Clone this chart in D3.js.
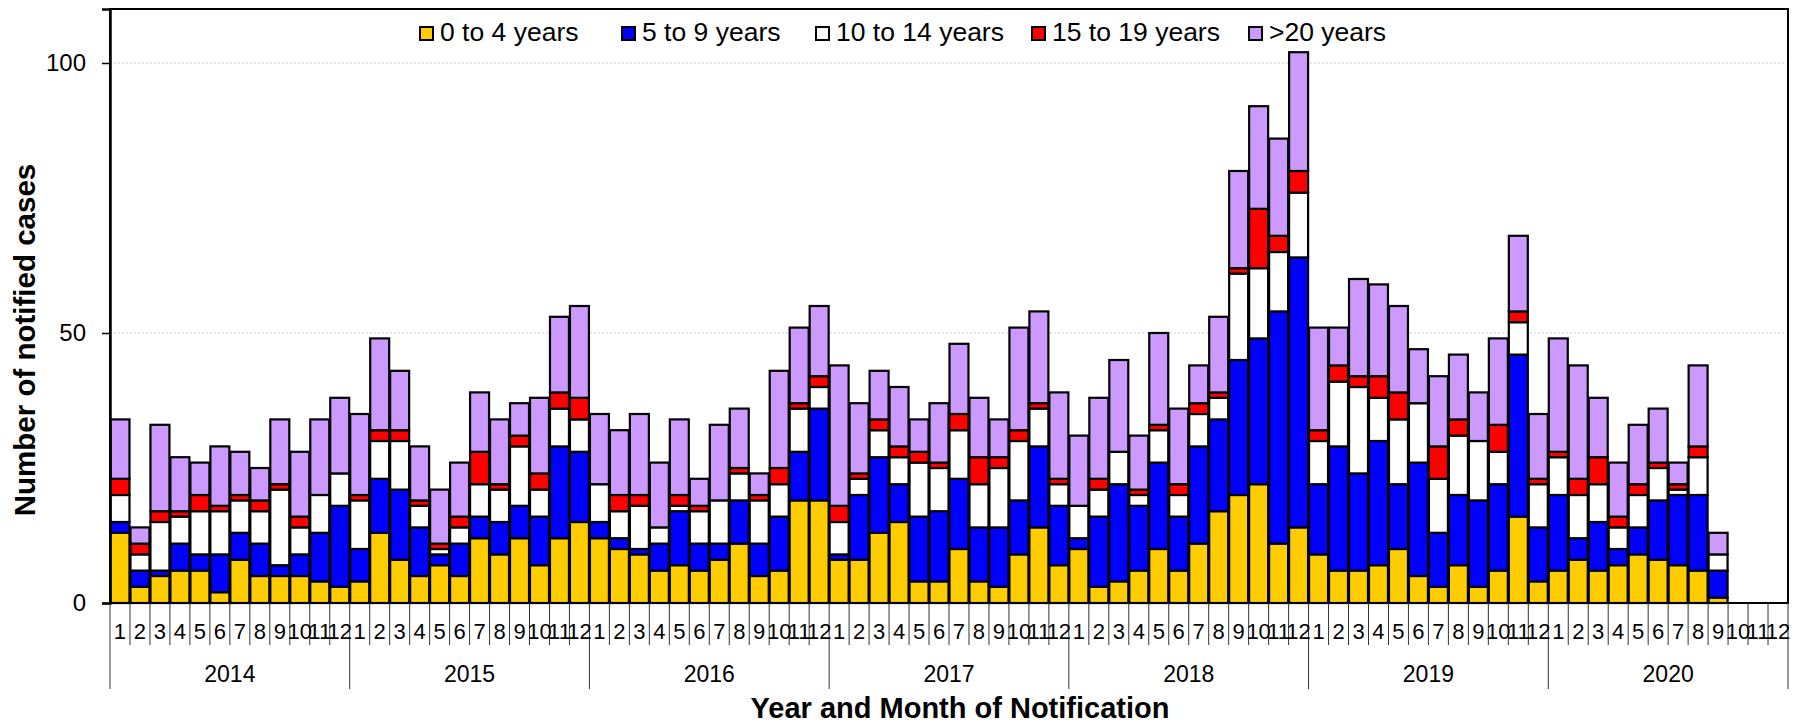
<!DOCTYPE html>
<html>
<head>
<meta charset="utf-8">
<script src="https://cdn.jsdelivr.net/npm/d3@7"></script>
<style>
  body { margin: 0; background: #fff; }
  text { font-family: "Liberation Sans", Arial, sans-serif; fill: #000; }
</style>
</head>
<body>
<div id="chart"></div>
<script>
  // Years and months on the x axis
  const years = ["2014", "2015", "2016", "2017", "2018", "2019", "2020"];
  const monthLabels = ["1", "2", "3", "4", "5", "6", "7", "8", "9", "10", "11", "12"];

  const seriesNames = ["0 to 4 years", "5 to 9 years", "10 to 14 years", "15 to 19 years", ">20 years"];
  const seriesColors = ["#FFCC00", "#0000FF", "#FFFFFF", "#FF0000", "#CC99FF"];

  // Notified cases per month, one row per year
  const age0to4 = [
    13, 3, 5, 6, 6, 2, 8, 5, 5, 5, 4, 3,
    4, 13, 8, 5, 7, 5, 12, 9, 12, 7, 12, 15,
    12, 10, 9, 6, 7, 6, 8, 11, 5, 6, 19, 19,
    8, 8, 13, 15, 4, 4, 10, 4, 3, 9, 14, 7,
    10, 3, 4, 6, 10, 6, 11, 17, 20, 22, 11, 14,
    9, 6, 6, 7, 10, 5, 3, 7, 3, 6, 16, 4,
    6, 8, 6, 7, 9, 8, 7, 6, 1, 0, 0, 0
  ];
  const age5to9 = [
    2, 3, 1, 5, 3, 7, 5, 6, 2, 4, 9, 15,
    6, 10, 13, 9, 2, 6, 4, 6, 6, 9, 17, 13,
    3, 2, 1, 5, 10, 5, 3, 8, 6, 10, 9, 17,
    1, 12, 14, 7, 12, 13, 13, 10, 11, 10, 15, 11,
    2, 13, 18, 12, 16, 10, 18, 17, 25, 27, 43, 50,
    13, 23, 18, 23, 12, 21, 10, 13, 16, 16, 30, 10,
    14, 4, 9, 3, 5, 11, 13, 14, 5, 0, 0, 0
  ];
  const age10to14 = [
    5, 3, 9, 5, 8, 8, 6, 6, 14, 5, 7, 6,
    9, 7, 9, 4, 1, 3, 6, 6, 11, 5, 7, 6,
    7, 5, 8, 3, 1, 6, 8, 5, 8, 6, 8, 4,
    6, 3, 5, 5, 10, 8, 9, 8, 11, 11, 7, 4,
    6, 5, 6, 2, 6, 4, 6, 4, 16, 13, 11, 12,
    8, 12, 16, 8, 12, 11, 10, 11, 11, 6, 6, 8,
    7, 8, 7, 4, 6, 6, 1, 7, 3, 0, 0, 0
  ];
  const age15to19 = [
    3, 2, 2, 1, 3, 1, 1, 2, 1, 2, 0, 0,
    1, 2, 2, 1, 1, 2, 6, 1, 2, 3, 3, 4,
    0, 3, 2, 0, 2, 1, 0, 1, 1, 3, 1, 2,
    3, 1, 2, 2, 2, 1, 3, 5, 2, 2, 1, 1,
    0, 2, 0, 1, 1, 2, 2, 1, 1, 11, 3, 4,
    2, 3, 2, 4, 5, 0, 6, 3, 0, 5, 2, 1,
    1, 3, 5, 2, 2, 1, 1, 2, 0, 0, 0, 0
  ];
  const age20plus = [
    11, 3, 16, 10, 6, 11, 8, 6, 12, 12, 14, 14,
    15, 17, 11, 10, 10, 10, 11, 12, 6, 14, 14, 17,
    13, 12, 15, 12, 14, 5, 14, 11, 4, 18, 14, 13,
    26, 13, 9, 11, 6, 11, 13, 11, 7, 19, 17, 16,
    13, 15, 17, 10, 17, 14, 7, 14, 18, 19, 18, 22,
    19, 7, 18, 17, 16, 10, 13, 12, 9, 16, 14, 12,
    21, 21, 11, 10, 11, 10, 4, 15, 4, 0, 0, 0
  ];
  const yTicks = [0, 50, 100];

  const seriesValues = [age0to4, age5to9, age10to14, age15to19, age20plus];

  // one row per month for d3.stack
  const rows = [];
  years.forEach((yr, yi) => {
    monthLabels.forEach((m, mi) => {
      const i = yi * 12 + mi;
      const row = { key: yr + "-" + m, year: yr, month: m };
      seriesNames.forEach((s, si) => { row[s] = seriesValues[si][i]; });
      rows.push(row);
    });
  });

  const svg = d3.select("#chart")
    .append("svg")
    .attr("width", 1800)
    .attr("height", 725);

  const margin = { top: 9, right: 12, bottom: 122, left: 110 };
  const width = 1800 - margin.left - margin.right;
  const height = 725 - margin.top - margin.bottom;

  const x = d3.scaleBand()
    .domain(rows.map(d => d.key))
    .range([0, width])
    .paddingInner(0.05)
    .paddingOuter(0.025);

  const y = d3.scaleLinear()
    .domain([0, 110])
    .range([height, 0]);

  const g = svg.append("g")
    .attr("transform", `translate(${margin.left}, ${margin.top})`);

  // gridlines
  g.append("g")
    .selectAll("line")
    .data(yTicks.filter(t => t > 0))
    .enter()
    .append("line")
    .attr("x1", 0).attr("x2", width)
    .attr("y1", d => y(d)).attr("y2", d => y(d))
    .attr("stroke", "#d0d0d0")
    .attr("stroke-width", 1)
    .attr("stroke-dasharray", "2,2");

  // stacked bars
  const stacked = d3.stack().keys(seriesNames)(rows);

  g.append("g")
    .selectAll("g")
    .data(stacked)
    .enter()
    .append("g")
    .attr("fill", (d, i) => seriesColors[i])
    .selectAll("rect")
    .data(d => d.filter(p => p[1] - p[0] > 0))
    .enter()
    .append("rect")
    .attr("x", d => x(d.data.key))
    .attr("y", d => y(d[1]))
    .attr("width", x.bandwidth())
    .attr("height", d => y(d[0]) - y(d[1]))
    .attr("stroke", "#000")
    .attr("stroke-width", 2.2);

  // frame
  g.append("rect")
    .attr("x", 0).attr("y", 0)
    .attr("width", width).attr("height", height)
    .attr("fill", "none")
    .attr("stroke", "#000")
    .attr("stroke-width", 2);

  // y axis
  const yAxis = g.append("g")
    .call(d3.axisLeft(y).tickValues(yTicks).tickSize(8).tickPadding(16));
  yAxis.select(".domain").attr("stroke-width", 2.5);
  yAxis.selectAll(".tick line").attr("stroke-width", 1.5);
  yAxis.selectAll("text")
    .style("font-family", "'Liberation Sans', Arial, sans-serif")
    .style("font-size", "24px");

  // x axis: month labels and separators
  const slotLeft = i => x.range()[0] + i * width / rows.length;

  const xa = g.append("g").attr("transform", `translate(0, ${height})`);

  xa.selectAll("line.month")
    .data(d3.range(rows.length + 1))
    .enter()
    .append("line")
    .attr("class", "month")
    .attr("x1", i => slotLeft(i)).attr("x2", i => slotLeft(i))
    .attr("y1", 0)
    .attr("y2", i => (i % 12 === 0 ? 86 : 42))
    .attr("stroke", "#333")
    .attr("stroke-width", 1);

  xa.selectAll("text.month")
    .data(rows)
    .enter()
    .append("text")
    .attr("class", "month")
    .attr("x", d => x(d.key) + x.bandwidth() / 2)
    .attr("y", 36)
    .attr("text-anchor", "middle")
    .style("font-size", "22px")
    .text(d => d.month);

  xa.selectAll("text.year")
    .data(years)
    .enter()
    .append("text")
    .attr("class", "year")
    .attr("x", (d, i) => (slotLeft(i * 12) + slotLeft(i * 12 + 12)) / 2)
    .attr("y", 79)
    .attr("text-anchor", "middle")
    .style("font-size", "23px")
    .text(d => d);

  // axis titles
  svg.append("text")
    .attr("x", 960)
    .attr("y", 718)
    .attr("text-anchor", "middle")
    .style("font-size", "29px")
    .style("font-weight", "bold")
    .text("Year and Month of Notification");

  svg.append("text")
    .attr("transform", "translate(35, 340) rotate(-90)")
    .attr("text-anchor", "middle")
    .style("font-size", "29.5px")
    .style("font-weight", "bold")
    .text("Number of notified cases");

  // legend
  const legendX = [420, 622, 816, 1032, 1249];
  const legend = svg.append("g")
    .selectAll("g")
    .data(seriesNames)
    .enter()
    .append("g")
    .attr("transform", (d, i) => `translate(${legendX[i]}, 27)`);

  legend.append("rect")
    .attr("width", 13).attr("height", 13)
    .attr("fill", (d, i) => seriesColors[i])
    .attr("stroke", "#000")
    .attr("stroke-width", 2);

  legend.append("text")
    .attr("x", 20)
    .attr("y", 14)
    .style("font-size", "26.5px")
    .text(d => d);
</script>
</body>
</html>
